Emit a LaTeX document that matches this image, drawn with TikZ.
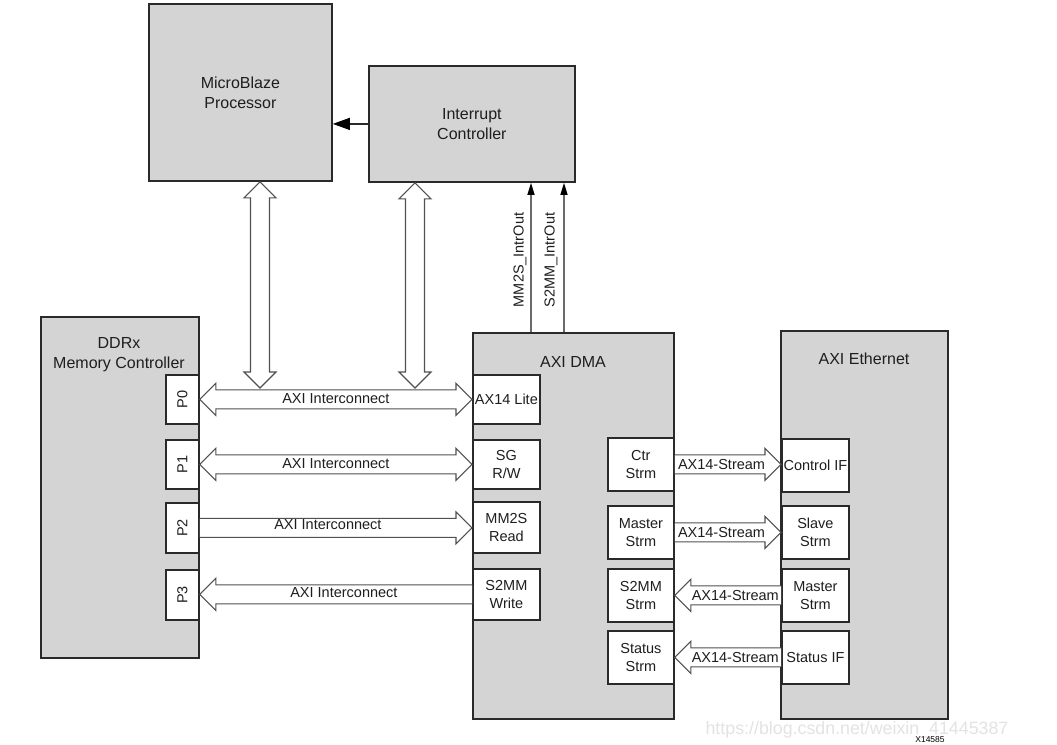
\documentclass[tikz,border=0pt]{standalone}
\usepackage{fontspec}
\setmainfont{Liberation Sans}
\usetikzlibrary{calc,arrows.meta}
\definecolor{boxgray}{HTML}{D4D4D4}
\definecolor{edge}{HTML}{2A2A2A}
\definecolor{arrowedge}{HTML}{505050}
\definecolor{sigcol}{HTML}{6A6A6A}
\definecolor{txt}{HTML}{1E1E1E}
\definecolor{wm}{HTML}{E3E3E3}
\tikzset{
  box/.style={draw=edge, fill=boxgray, line width=1.8pt, anchor=north west, inner sep=0pt, align=center, text=txt, font=\fontsize{16}{20}\selectfont},
  port/.style={draw=edge, fill=white, line width=1.8pt, anchor=north west, inner sep=0pt, align=center, text=txt, font=\fontsize{14.5}{18}\selectfont},
  lbl/.style={text=txt, font=\fontsize{16}{20}\selectfont, inner sep=0pt, align=center},
  slbl/.style={text=txt, font=\fontsize{14.5}{18}\selectfont, inner sep=0pt},
  hollow/.style={draw=arrowedge, fill=white, line width=1.1pt, line join=miter},
  sigline/.style={draw=sigcol, line width=1.3pt, -{Triangle[length=12pt,width=7pt,color=black]}},
}
\newcommand\HDouble[2]{\path[hollow] let \p1=(#1), \p2=(#2) in
  (\x1,\y1) -- (\x1+16pt,\y1+16pt) -- (\x1+16pt,\y1+9.5pt) -- (\x2-16pt,\y1+9.5pt) -- (\x2-16pt,\y1+16pt) -- (\x2,\y1)
  -- (\x2-16pt,\y1-16pt) -- (\x2-16pt,\y1-9.5pt) -- (\x1+16pt,\y1-9.5pt) -- (\x1+16pt,\y1-16pt) -- cycle;}
\newcommand\HRight[2]{\path[hollow] let \p1=(#1), \p2=(#2) in
  (\x1,\y1+9.5pt) -- (\x2-16pt,\y1+9.5pt) -- (\x2-16pt,\y1+16pt) -- (\x2,\y1) -- (\x2-16pt,\y1-16pt) -- (\x2-16pt,\y1-9.5pt) -- (\x1,\y1-9.5pt);}
\newcommand\HLeft[2]{\path[hollow] let \p1=(#1), \p2=(#2) in
  (\x2,\y2+9.5pt) -- (\x1+16pt,\y2+9.5pt) -- (\x1+16pt,\y2+16pt) -- (\x1,\y2) -- (\x1+16pt,\y2-16pt) -- (\x1+16pt,\y2-9.5pt) -- (\x2,\y2-9.5pt);}
\newcommand\VDouble[2]{\path[hollow] let \p1=(#1), \p2=(#2) in
  (\x1,\y1) -- (\x1-16pt,\y1-16pt) -- (\x1-9.5pt,\y1-16pt) -- (\x1-9.5pt,\y2+16pt) -- (\x1-16pt,\y2+16pt) -- (\x1,\y2)
  -- (\x1+16pt,\y2+16pt) -- (\x1+9.5pt,\y2+16pt) -- (\x1+9.5pt,\y1-16pt) -- (\x1+16pt,\y1-16pt) -- cycle;}
\begin{document}
\begin{tikzpicture}[x=1pt,y=-1pt]
\useasboundingbox[fill=white] (0,0) rectangle (1057,744);

% main blocks
\node[box, minimum width=183pt, minimum height=177pt] (mb) at (148,3) {MicroBlaze\\Processor};
\node[box, minimum width=206pt, minimum height=116pt] (ic) at (368,65) {Interrupt\\Controller};
\node[box, minimum width=158pt, minimum height=341pt] (ddr) at (40,316) {};
\node[box, minimum width=201pt, minimum height=386pt] (dma) at (472,332) {};
\node[box, minimum width=167pt, minimum height=388pt] (eth) at (780,330) {};

\node[lbl] (ddrlbl) at (119,355) {DDRx\\Memory Controller};
\node[lbl] (dmalbl) at (573,362) {AXI DMA};
\node[lbl] (ethlbl) at (864,359) {AXI Ethernet};

% DDR ports
\node[port, minimum width=33pt, minimum height=49pt] (P0) at (165,374) {\rotatebox{90}{P0}};
\node[port, minimum width=33pt, minimum height=49pt] (P1) at (165,439) {\rotatebox{90}{P1}};
\node[port, minimum width=33pt, minimum height=50pt] (P2) at (165,502) {\rotatebox{90}{P2}};
\node[port, minimum width=33pt, minimum height=50pt] (P3) at (165,569) {\rotatebox{90}{P3}};

% DMA left ports
\node[port, minimum width=67pt, minimum height=49pt] (lite) at (472,374) {AX14 Lite};
\node[port, minimum width=67pt, minimum height=49pt] (sg) at (472,439) {SG\\R/W};
\node[port, minimum width=67pt, minimum height=51pt] (mm2s) at (472,501) {MM2S\\Read};
\node[port, minimum width=67pt, minimum height=51pt] (s2mm) at (472,568) {S2MM\\Write};

% DMA right ports
\node[port, minimum width=66pt, minimum height=53pt] (ctr) at (607,437) {Ctr\\Strm};
\node[port, minimum width=66pt, minimum height=53pt] (mstr) at (607,505) {Master\\Strm};
\node[port, minimum width=66pt, minimum height=53pt] (s2mmS) at (607,568) {S2MM\\Strm};
\node[port, minimum width=66pt, minimum height=53pt] (stat) at (607,630) {Status\\Strm};

% Ethernet ports
\node[port, minimum width=67pt, minimum height=53pt] (cif) at (781,438) {Control IF};
\node[port, minimum width=67pt, minimum height=53pt] (slave) at (781,505) {Slave\\Strm};
\node[port, minimum width=67pt, minimum height=53pt] (emstr) at (781,568) {Master\\Strm};
\node[port, minimum width=67pt, minimum height=53pt] (sif) at (781,630) {Status IF};

% interrupt to processor
\draw[draw=edge, line width=1.2pt, -{Triangle[length=17pt,width=12pt,color=black]}] (ic.west) -- (ic.west -| mb.east);

% vertical bus arrows
\coordinate (mbA) at ($(mb.south west)+(112,0)$);
\coordinate (mbB) at (260,388);
\coordinate (icA) at ($(ic.south west)+(47,0)$);
\coordinate (icB) at (415,388);
\VDouble{mbA}{mbB}
\VDouble{icA}{icB}

% interrupt outputs
\coordinate (i1) at ($(dma.north west)+(59,0)$);
\coordinate (i2) at ($(dma.north west)+(92,0)$);
\draw[sigline] (i1) -- (i1 |- ic.south);
\draw[sigline] (i2) -- (i2 |- ic.south);
\node[slbl, rotate=90] (i1lbl) at (520,260) {MM2S\_IntrOut};
\node[slbl, rotate=90] (i2lbl) at (551,260) {S2MM\_IntrOut};

% AXI interconnect arrows
\HDouble{P0.east}{lite.west}
\HDouble{P1.east}{sg.west}
\HRight{P2.east}{mm2s.west}
\HLeft{P3.east}{s2mm.west}
\node[slbl] (a0) at ($(P0.east)!0.5!(lite.west)+(0,-1)$) {AXI Interconnect};
\node[slbl] (a1) at ($(P1.east)!0.5!(sg.west)+(0,-1)$) {AXI Interconnect};
\node[slbl] (a2) at ($(P2.east)!0.5!(mm2s.west)+(-8,-3)$) {AXI Interconnect};
\node[slbl] (a3) at ($(P3.east)!0.5!(s2mm.west)+(8,-2)$) {AXI Interconnect};

% stream arrows
\HRight{ctr.east}{cif.west}
\HRight{mstr.east}{slave.west}
\HLeft{s2mmS.east}{emstr.west}
\HLeft{stat.east}{sif.west}
\node[slbl, anchor=west] (s0) at ($(ctr.east)+(3,0)$) {AX14-Stream};
\node[slbl, anchor=west] (s1) at ($(mstr.east)+(3,0)$) {AX14-Stream};
\node[slbl, anchor=east] (s2) at ($(emstr.west)+(-2,0)$) {AX14-Stream};
\node[slbl, anchor=east] (s3) at ($(sif.west)+(-2,0)$) {AX14-Stream};

% footer
\node[text=wm, font=\fontsize{17.8}{20}\selectfont, inner sep=0pt] (wmk) at (857,730) {https://blog.csdn.net/weixin\_41445387};
\node[text=black, font=\fontsize{8.5}{10}\selectfont, inner sep=0pt] (fig) at (930,740) {X14585};
\end{tikzpicture}
\end{document}
